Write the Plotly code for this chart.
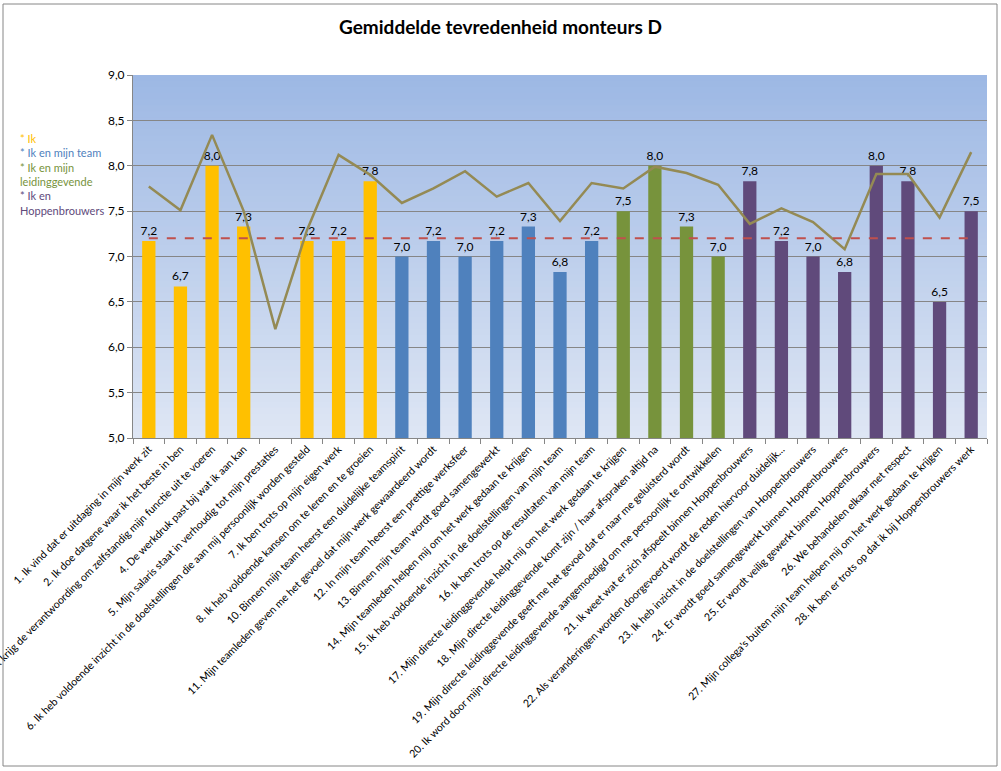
import plotly.graph_objects as go

# ---------------- data ----------------
categories = [
    "1. Ik vind dat er uitdaging in mijn werk zit",
    "2. Ik doe datgene waar ik het beste in ben",
    "3. Ik krijg de verantwoording om zelfstandig mijn functie uit te voeren",
    "4. De werkdruk past bij wat ik aan kan",
    "5. Mijn salaris staat in verhoudig tot mijn prestaties",
    "6. Ik heb voldoende inzicht in de doelstellingen die aan mij persoonlijk worden gesteld",
    "7. Ik ben trots op mijn eigen werk",
    "8. Ik heb voldoende kansen om te leren en te groeien",
    "10. Binnen mijn team heerst een duidelijke teamspirit",
    "11. Mijn teamleden geven me het gevoel dat mijn werk gewaardeerd wordt",
    "12. In mijn team heerst een prettige werksfeer",
    "13. Binnen mijn team wordt goed samengewerkt",
    "14. Mijn teamleden helpen mij om het werk gedaan te krijgen",
    "15. Ik heb voldoende inzicht in de doelstellingen van mijn team",
    "16. Ik ben trots op de resultaten van mijn team",
    "17. Mijn directe leidinggevende helpt mij om het werk gedaan te krijgen",
    "18. Mijn directe leidinggevende komt zijn / haar afspraken altijd na",
    "19. Mijn directe leidinggevende geeft me het gevoel dat er naar me geluisterd wordt",
    "20. Ik word door mijn directe leidinggevende aangemoedigd om me persoonlijk te ontwikkelen",
    "21. Ik weet wat er zich afspeelt binnen Hoppenbrouwers",
    "22. Als veranderingen worden doorgevoerd wordt de reden hiervoor duidelijk...",
    "23. Ik heb inzicht in de doelstellingen van Hoppenbrouwers",
    "24. Er wordt goed samengewerkt binnen Hoppenbrouwers",
    "25. Er wordt veilig gewerkt binnen Hoppenbrouwers",
    "26. We behandelen elkaar met respect",
    "27. Mijn collega's buiten mijn team helpen mij om het werk gedaan te krijgen",
    "28. Ik ben er trots op dat ik bij Hoppenbrouwers werk",
]

groups = [
    "Ik", "Ik", "Ik", "Ik", "Ik", "Ik", "Ik", "Ik",
    "Team", "Team", "Team", "Team", "Team", "Team", "Team",
    "Leiding", "Leiding", "Leiding", "Leiding",
    "Hoppen", "Hoppen", "Hoppen", "Hoppen", "Hoppen", "Hoppen", "Hoppen", "Hoppen",
]

bar_values = [7.17, 6.67, 8.0, 7.33, None, 7.17, 7.17, 7.83,
              7.0, 7.17, 7.0, 7.17, 7.33, 6.83, 7.17,
              7.5, 8.0, 7.33, 7.0,
              7.83, 7.17, 7.0, 6.83, 8.0, 7.83, 6.5, 7.5]

line_values = [7.77, 7.51, 8.34, 7.5, 6.2, 7.29, 8.12, 7.9,
               7.59, 7.75, 7.94, 7.66, 7.81, 7.39, 7.81,
               7.75, 7.99, 7.92, 7.79,
               7.36, 7.53, 7.38, 7.08, 7.91, 7.91, 7.43, 8.15]

average_value = 7.2

legend_texts = ["* Ik", "* Ik en mijn team", "* Ik en mijn<br>leidinggevende", "* Ik en<br>Hoppenbrouwers"]

title_text = "Gemiddelde tevredenheid monteurs D"

# ---------------- styles ----------------
group_colors = {"Ik": "#FFC000", "Team": "#4F81BD", "Leiding": "#77933C", "Hoppen": "#604A7B"}
legend_colors = ["#FFC000", "#4F81BD", "#77933C", "#604A7B"]
FONT = "Lato"
W, H = 1001, 771
ML, MR, MT, MB = 133, 14, 75, 333
PW, PH = W - ML - MR, H - MT - MB

def px_to_paper_x(px):
    return (px - ML) / PW

def px_to_paper_y(py):
    return (H - MB - py) / PH

fig = go.Figure()

fig.add_trace(go.Bar(
    x=categories, y=bar_values,
    marker=dict(color=[group_colors[g] for g in groups], line=dict(width=0)),
    width=0.42,
    texttemplate="%{y:.1f}", textposition="outside", constraintext="none",
    textfont=dict(family=FONT, size=12, color="#000000"),
    cliponaxis=False, showlegend=False, hoverinfo="x+y",
))

fig.add_trace(go.Scatter(
    x=categories, y=line_values, mode="lines",
    line=dict(color="#948A54", width=2.5), showlegend=False,
))

fig.add_trace(go.Scatter(
    x=[categories[0], categories[-1]], y=[average_value, average_value], mode="lines",
    line=dict(color="#C0504D", width=2, dash="dash"), showlegend=False,
))

# gradient background strips (overlapping to avoid seams)
shapes = []
top = (157, 184, 228)
bot = (222, 230, 244)
n = 60
for i in range(n):
    t = i / (n - 1)
    c = tuple(round(top[k] + (bot[k] - top[k]) * t) for k in range(3))
    y0 = max(0.0, 1 - (i + 1) / n - 0.004)
    shapes.append(dict(type="rect", xref="paper", yref="paper",
                       x0=0, x1=1, y0=y0, y1=1 - i / n,
                       fillcolor="rgb(%d,%d,%d)" % c, line=dict(width=0), layer="below"))

# outer chart border
shapes.append(dict(type="rect", xref="paper", yref="paper",
                   x0=px_to_paper_x(3), x1=px_to_paper_x(997),
                   y0=px_to_paper_y(766), y1=px_to_paper_y(4),
                   line=dict(color="#868686", width=1), fillcolor="rgba(0,0,0,0)", layer="above"))

legend_html = "<br>".join(
    '<span style="color:%s">%s</span>' % (col, txt.replace("<br>", '</span><br><span style="color:%s">' % col))
    for txt, col in zip(legend_texts, legend_colors)
)
annotations = [dict(text=legend_html, xref="paper", yref="paper",
                    x=px_to_paper_x(18), y=px_to_paper_y(130),
                    xanchor="left", yanchor="top", align="left", showarrow=False,
                    font=dict(family=FONT, size=11, color="#000000"))]

fig.update_layout(
    width=W, height=H,
    margin=dict(l=ML, r=MR, t=MT, b=MB, autoexpand=False),
    paper_bgcolor="white", plot_bgcolor="rgba(0,0,0,0)",
    separators=",.",
    title=dict(text="<b>" + title_text + "</b>", x=0.5, xref="container", xanchor="center",
               y=1 - 27 / H, yref="container", yanchor="middle",
               font=dict(family=FONT, size=19, color="#000000")),
    shapes=shapes, annotations=annotations,
    xaxis=dict(type="category", tickangle=-45, tickson="boundaries",
               ticks="outside", ticklen=5, tickcolor="#868686",
               showline=True, linecolor="#868686", linewidth=1,
               showgrid=False, automargin=False,
               tickfont=dict(family=FONT, size=10.6, color="#000000")),
    yaxis=dict(range=[5, 9], dtick=0.5, tickformat=".1f",
               showgrid=True, gridcolor="#868686", gridwidth=1,
               showline=True, linecolor="#868686", linewidth=1,
               ticks="outside", ticklen=5, tickcolor="#868686",
               zeroline=False, automargin=False,
               tickfont=dict(family=FONT, size=12, color="#000000")),
)

fig.write_html("out.html", config={"displayModeBar": False},
               post_script="document.body.style.margin='0';")
